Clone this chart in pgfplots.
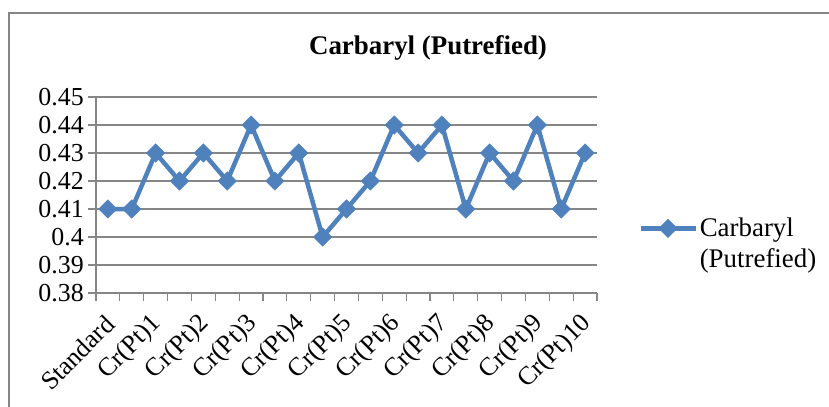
\documentclass[border=0pt]{standalone}
\usepackage{fontspec}
\setmainfont{Liberation Serif}
\usepackage{pgfplots}
\pgfplotsset{compat=1.18}
\definecolor{xlblue}{RGB}{79,129,189}
\definecolor{xlgrid}{RGB}{134,134,134}
\begin{document}
\begin{tikzpicture}[font=\fontsize{26}{30}\selectfont]
% frame of the chart area (cut off at right and bottom)
\draw[xlgrid, line width=1.2bp] (9bp,0bp) -- (9bp,394bp) -- (829bp,394bp);
\node[font=\fontsize{27}{31}\selectfont\bfseries] at (428bp,359bp) {Carbaryl (Putrefied)};
\begin{axis}[
    at={(96bp,114bp)}, anchor=south west,
    scale only axis,
    width=501bp, height=196bp,
    xmin=-0.5, xmax=20.5,
    ymin=0.38, ymax=0.45,
    axis x line*=bottom, axis y line*=left,
    axis line style={xlgrid, line width=1.2bp},
    xtick={0,2,...,20},
    xticklabels={Standard,Cr(Pt)1,Cr(Pt)2,Cr(Pt)3,Cr(Pt)4,Cr(Pt)5,Cr(Pt)6,Cr(Pt)7,Cr(Pt)8,Cr(Pt)9,Cr(Pt)10},
    major x tick style={draw=none},
    minor xtick={-0.5,0.5,...,20.5},
    minor tick length=8bp,
    minor x tick style={xlgrid, line width=1.2bp},
    ytick={0.38,0.39,...,0.455},
    major tick length=8bp,
    tick align=outside,
    y tick style={xlgrid, line width=1.2bp},
    ymajorgrids,
    major grid style={xlgrid, line width=1.2bp},
    yticklabel style={/pgf/number format/fixed, /pgf/number format/precision=2, inner sep=0pt, xshift=-4bp},
    xticklabel style={rotate=45, anchor=east, inner sep=0pt, xshift=-12bp, yshift=-15bp},
    /pgf/number format/assume math mode=true,
    tick label style={font=\fontsize{26}{30}\selectfont},
    legend style={draw=none, fill=none, at={(1.082,0.253)}, anchor=west,
        inner sep=0pt, font=\fontsize{27}{31}\selectfont,
        nodes={inner sep=2bp, align=left}},
    legend cell align=left,
    legend image code/.code={
        \draw[mark repeat=2, mark phase=2, #1] plot coordinates {(0bp,15bp) (27.5bp,15bp) (55bp,15bp)};
    },
]
\addplot[xlblue, line width=4.5bp, mark=square*, mark size=6.5bp,
    mark options={rotate=45, solid, line width=0.5bp}]
    coordinates {
    (0,0.41) (1,0.41) (2,0.43) (3,0.42) (4,0.43) (5,0.42) (6,0.44)
    (7,0.42) (8,0.43) (9,0.40) (10,0.41) (11,0.42) (12,0.44) (13,0.43)
    (14,0.44) (15,0.41) (16,0.43) (17,0.42) (18,0.44) (19,0.41) (20,0.43)
    };
\addlegendentry{Carbaryl\\(Putrefied)}
\end{axis}
\pgfresetboundingbox
\useasboundingbox (0bp,0bp) rectangle (829bp,407bp);
\end{tikzpicture}
\end{document}
